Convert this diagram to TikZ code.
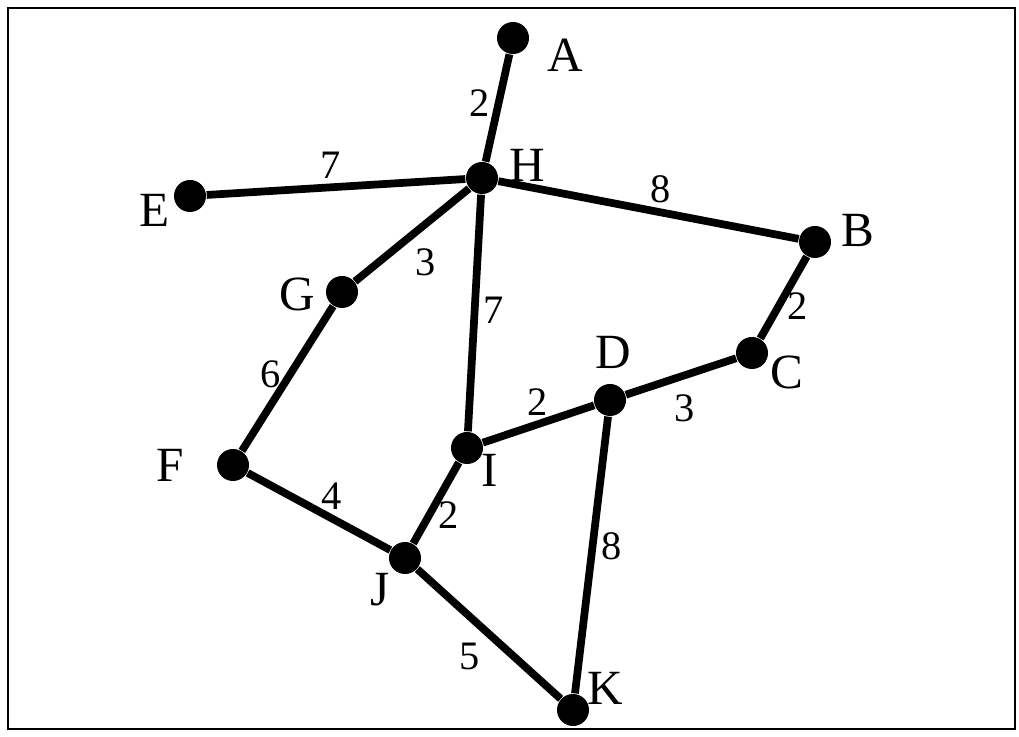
\documentclass[tikz,border=0pt]{standalone}
\usepackage{fontspec}
\setmainfont{Liberation Serif}
\usetikzlibrary{calc}

\begin{document}
\begin{tikzpicture}[
        vert/.style={circle, fill=black, inner sep=0pt, minimum size=0.32cm},
        edge/.style={line width=2.2pt},
        wt/.style={font=\fontsize{11.5}{13}\selectfont, inner sep=1.5pt},
        tag/.style={font=\fontsize{14}{16}\selectfont, inner sep=0pt}
    ]
            \useasboundingbox (0,0) rectangle (10.19,7.36);
            \draw[line width=0.8pt] (0.08,0.07) rectangle (10.15,7.28);

            % vertices
            \node[vert] (A) at (5.13,6.98) {};
            \node[vert] (H) at (4.82,5.58) {};
            \node[vert] (E) at (1.90,5.40) {};
            \node[vert] (B) at (8.15,4.94) {};
            \node[vert] (G) at (3.42,4.44) {};
            \node[vert] (C) at (7.52,3.83) {};
            \node[vert] (D) at (6.10,3.36) {};
            \node[vert] (I) at (4.67,2.88) {};
            \node[vert] (F) at (2.33,2.71) {};
            \node[vert] (J) at (4.05,1.78) {};
            \node[vert] (K) at (5.73,0.26) {};

            % vertex names
            \node[tag] (tA) at (5.65,6.81) {A};
            \node[tag] (tH) at (5.27,5.71) {H};
            \node[tag] (tE) at (1.55,5.26) {E};
            \node[tag] (tB) at (8.58,5.06) {B};
            \node[tag] (tG) at (2.97,4.42) {G};
            \node[tag] (tC) at (7.87,3.64) {C};
            \node[tag] (tD) at (6.13,3.84) {D};
            \node[tag] (tI) at (4.90,2.66) {I};
            \node[tag] (tF) at (1.70,2.71) {F};
            \node[tag] (tJ) at (3.80,1.46) {J};
            \node[tag] (tK) at (6.05,0.48) {K};

            % weighted edges
            \draw[edge] (A) -- (H) node[wt, pos=0.45, left]{2};
            \draw[edge] (E) -- (H) node[wt, pos=0.48, above]{7};
            \draw[edge] (H) -- (B) node[wt, pos=0.54, above]{8};
            \draw[edge] (H) -- (G) node[wt, pos=0.55, below right]{3};
            \draw[edge] (H) -- (I) node[wt, pos=0.49, right]{7};
            \draw[edge] (B) -- (C) node[wt, pos=0.6, right]{2};
            \draw[edge] (D) -- (C) node[wt, pos=0.53, below=3pt]{3};
            \draw[edge] (I) -- (D) node[wt, pos=0.49, above]{2};
            \draw[edge] (G) -- (F) node[wt, pos=0.47, left]{6};
            \draw[edge] (F) -- (J) node[wt, pos=0.59, above]{4};
            \draw[edge] (J) -- (I) node[wt, pos=0.35, right]{2};
            \draw[edge] (D) -- (K) node[wt, pos=0.47, right]{8};
            \draw[edge] (J) -- (K) node[wt, pos=0.5, below left=0pt]{5};
        \end{tikzpicture}
\end{document}
